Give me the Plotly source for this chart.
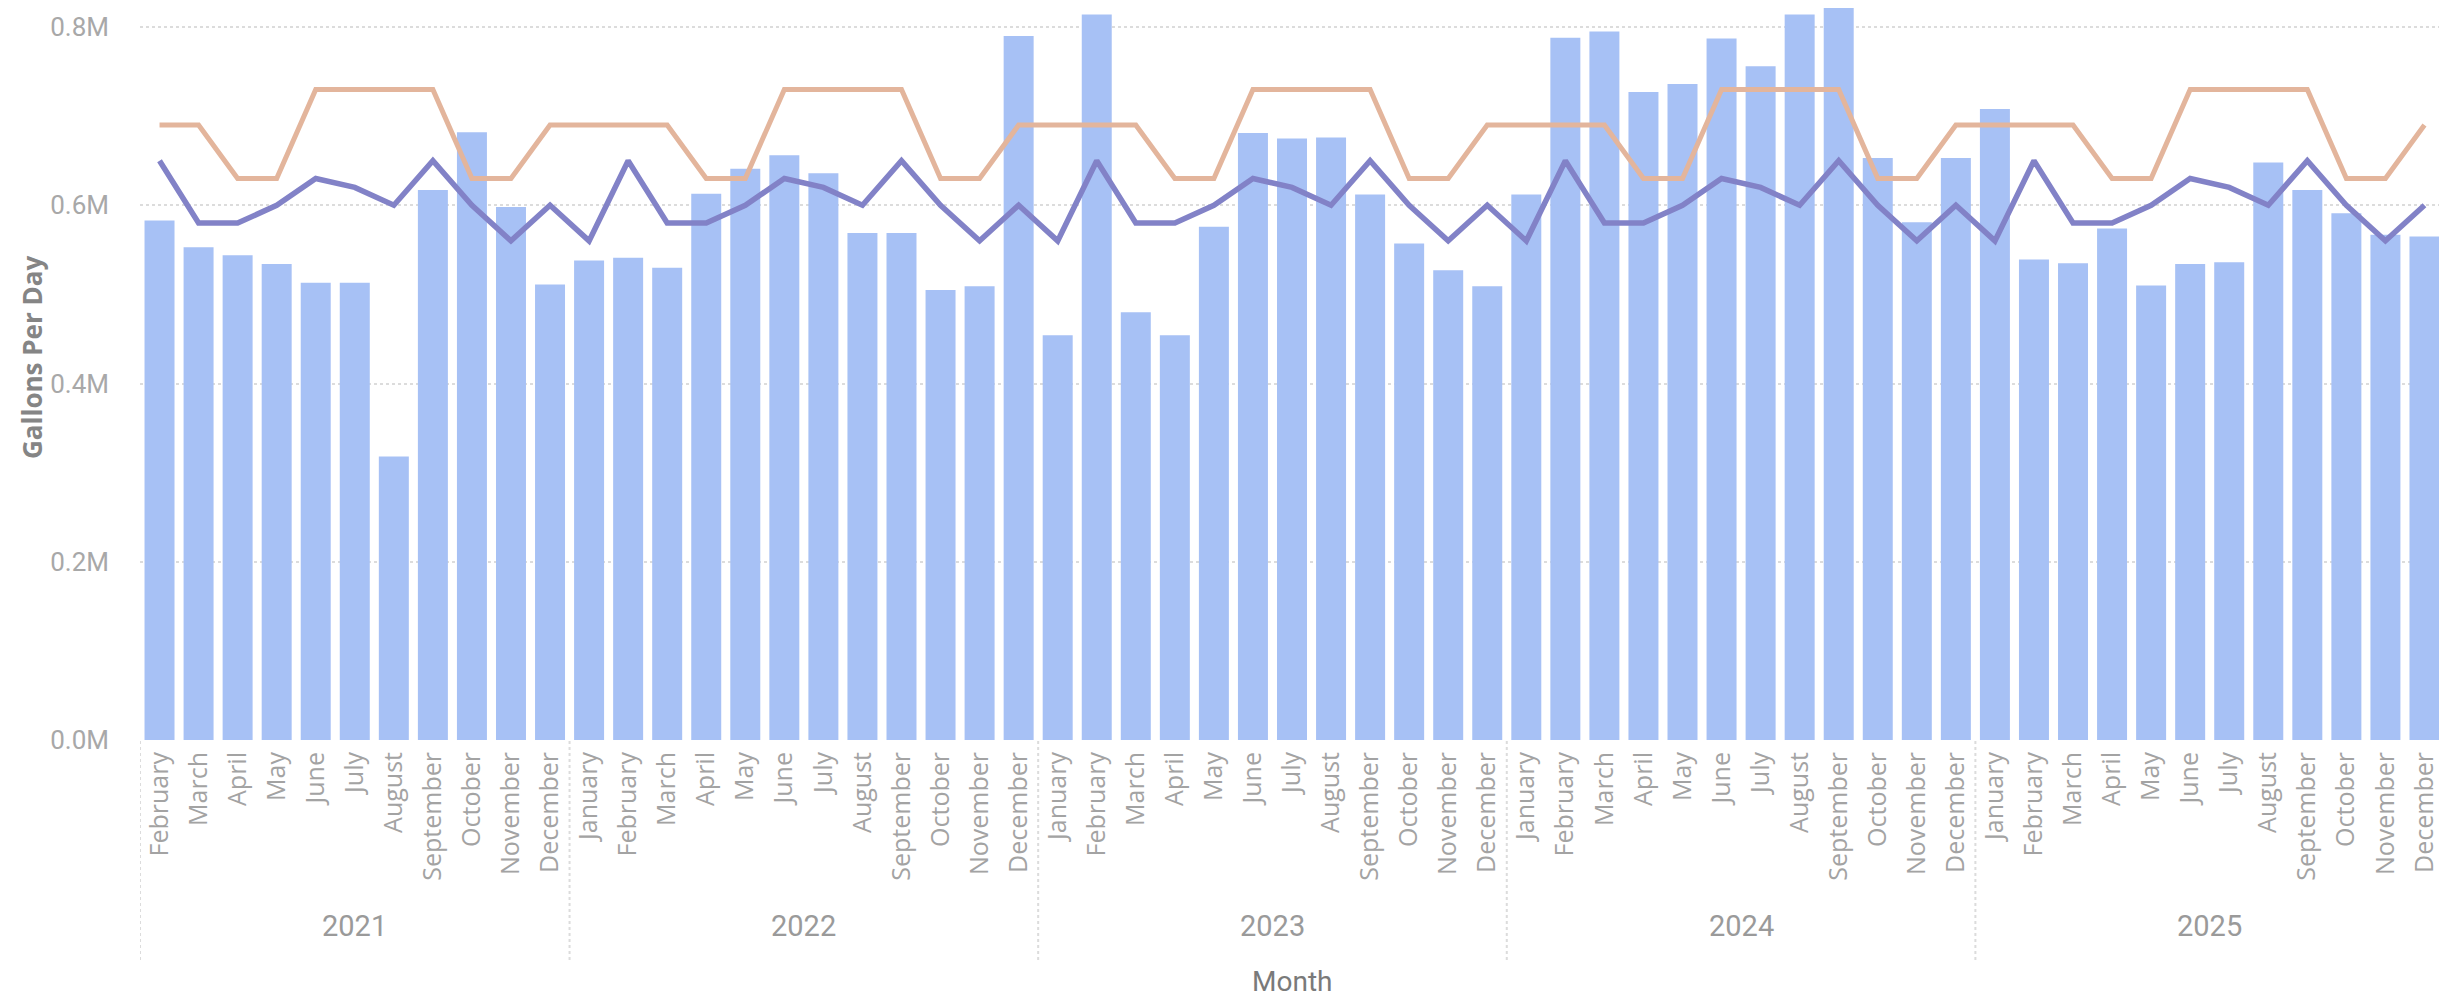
import plotly.graph_objects as go

# ---------------- data ----------------
years = ["2021", "2022", "2023", "2024", "2025"]
year_months = {
    "2021": ["February", "March", "April", "May", "June", "July", "August",
             "September", "October", "November", "December"],
    "2022": ["January", "February", "March", "April", "May", "June", "July",
             "August", "September", "October", "November", "December"],
    "2023": ["January", "February", "March", "April", "May", "June", "July",
             "August", "September", "October", "November", "December"],
    "2024": ["January", "February", "March", "April", "May", "June", "July",
             "August", "September", "October", "November", "December"],
    "2025": ["January", "February", "March", "April", "May", "June", "July",
             "August", "September", "October", "November", "December"],
}

# Actual gallons per day (bars)
actual_gpd = [
    # 2021 Feb-Dec
    583000, 553000, 544000, 534000, 513000, 513000, 318000, 617000, 682000, 598000, 511000,
    # 2022
    538000, 541000, 530000, 613000, 641000, 656000, 636000, 569000, 569000, 505000, 509000, 790000,
    # 2023
    454000, 814000, 480000, 454000, 576000, 681000, 675000, 676000, 612000, 557000, 527000, 509000,
    # 2024
    612000, 788000, 795000, 727000, 736000, 787000, 756000, 814000, 830000, 653000, 581000, 653000,
    # 2025
    708000, 539000, 535000, 574000, 510000, 534000, 536000, 648000, 617000, 591000, 567000, 565000,
]

# Orange line (target)
target_gpd = [
    690000, 690000, 630000, 630000, 730000, 730000, 730000, 730000, 630000, 630000, 690000,
    690000, 690000, 690000, 630000, 630000, 730000, 730000, 730000, 730000, 630000, 630000, 690000,
    690000, 690000, 690000, 630000, 630000, 730000, 730000, 730000, 730000, 630000, 630000, 690000,
    690000, 690000, 690000, 630000, 630000, 730000, 730000, 730000, 730000, 630000, 630000, 690000,
    690000, 690000, 690000, 630000, 630000, 730000, 730000, 730000, 730000, 630000, 630000, 690000,
]

# Purple line (baseline)
baseline_gpd = [
    650000, 580000, 580000, 600000, 630000, 620000, 600000, 650000, 600000, 560000, 600000,
    560000, 650000, 580000, 580000, 600000, 630000, 620000, 600000, 650000, 600000, 560000, 600000,
    560000, 650000, 580000, 580000, 600000, 630000, 620000, 600000, 650000, 600000, 560000, 600000,
    560000, 650000, 580000, 580000, 600000, 630000, 620000, 600000, 650000, 600000, 560000, 600000,
    560000, 650000, 580000, 580000, 600000, 630000, 620000, 600000, 650000, 600000, 560000, 600000,
]

y_tick_vals = [0, 200000, 400000, 600000, 800000]
y_tick_text = ["0.0M", "0.2M", "0.4M", "0.6M", "0.8M"]

# ---------------- categories ----------------
cat_keys = []
cat_months = []
for yr in years:
    for m in year_months[yr]:
        cat_keys.append(f"{m} {yr}")
        cat_months.append(m)

W, H = 2447, 995
L, R, T, B = 132, 11, 0, 263
plot_w = W - L - R
plot_h = H - T - B

NUM_FONT = "Liberation Sans Narrow, Roboto, Arial, sans-serif"
TXT_FONT = "Open Sans, Noto Sans, sans-serif"

fig = go.Figure()
fig.add_trace(go.Bar(
    x=cat_keys, y=actual_gpd, marker=dict(color="#A7C1F5", line=dict(width=0)),
    name="Gallons Per Day", showlegend=False,
))
fig.add_trace(go.Scatter(
    x=cat_keys, y=target_gpd, mode="lines",
    line=dict(color="#E3B59C", width=5), showlegend=False,
))
fig.add_trace(go.Scatter(
    x=cat_keys, y=baseline_gpd, mode="lines",
    line=dict(color="#8282C7", width=5.5), showlegend=False,
))

# y range: 0.8M sits 19 px below the top of the plot area
y_max = 800000 * plot_h / (plot_h - 19)

fig.update_layout(
    width=W, height=H,
    margin=dict(l=L, r=R, t=T, b=B, pad=0),
    paper_bgcolor="#FFFFFF", plot_bgcolor="#FFFFFF",
    bargap=0.232,
    xaxis=dict(
        type="category", categoryorder="array", categoryarray=cat_keys,
        tickmode="array", tickvals=cat_keys, ticktext=cat_months,
        tickangle=-90, tickfont=dict(family=TXT_FONT, size=25, color="#A3A3A3"),
        showgrid=False, zeroline=False, showline=False, ticks="",
        ticklabelstandoff=6,
        range=[-0.5, len(cat_keys) - 0.5],
    ),
    yaxis=dict(
        range=[0, y_max],
        tickmode="array", tickvals=y_tick_vals, ticktext=y_tick_text,
        tickfont=dict(family=NUM_FONT, size=26, color="#A8A8A8"),
        showgrid=True, gridcolor="#DCDCDC", gridwidth=2, griddash="dot",
        zeroline=False, showline=False, ticks="",
        ticklabelstandoff=30,
    ),
)

# year group labels & dotted dividers
start = 0
div_y0 = (plot_h - 733) / plot_h
div_y1 = (plot_h - 955) / plot_h
fig.add_shape(type="line", xref="x", yref="paper", x0=-0.5, x1=-0.5,
              y0=div_y0, y1=div_y1, line=dict(color="#DCDCDC", width=2, dash="dot"))
for yr in years:
    n = len(year_months[yr])
    center = start + (n - 1) / 2
    fig.add_annotation(
        x=center, xref="x", y=(plot_h - 918) / plot_h, yref="paper",
        text=yr, showarrow=False, yanchor="middle", xanchor="center",
        font=dict(family=NUM_FONT, size=29, color="#9A9A9A"),
    )
    edge = start + n - 0.5
    fig.add_shape(type="line", xref="x", yref="paper", x0=edge, x1=edge,
                  y0=div_y0, y1=div_y1, line=dict(color="#DCDCDC", width=2, dash="dot"))
    start += n

# axis titles
fig.add_annotation(
    x=(24 - L) / plot_w, xref="paper", y=(plot_h - 350) / plot_h, yref="paper",
    text="<b>Gallons Per Day</b>", textangle=-90, showarrow=False,
    xanchor="center", yanchor="middle",
    font=dict(family=TXT_FONT, size=26, color="#858585"),
)
fig.add_annotation(
    x=0.5, xref="paper", y=(plot_h - 973) / plot_h, yref="paper",
    text="Month", showarrow=False, xanchor="center", yanchor="middle",
    font=dict(family=NUM_FONT, size=28, color="#7A7A7A"),
)

fig.write_html("out.html")
